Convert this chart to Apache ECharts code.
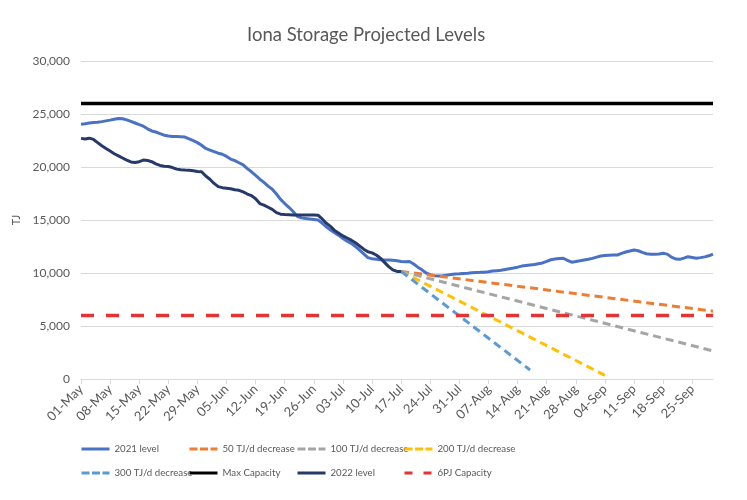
<!DOCTYPE html>
<html>
<head>
<meta charset="utf-8">
<script src="https://cdn.jsdelivr.net/npm/echarts@6/dist/echarts.min.js"></script>
<style>
html,body{margin:0;padding:0;background:#fff;}
#chart{width:747px;height:500px;}
</style>
</head>
<body>
<div id="chart"></div>
<script>
// ---- data ----
const months = ['May', 'Jun', 'Jul', 'Aug', 'Sep'];
const monthDays = [31, 30, 31, 31, 30];
const categories = [];
months.forEach(function (m, i) {
  for (let d = 1; d <= monthDays[i]; d++) {
    categories.push((d < 10 ? '0' + d : '' + d) + '-' + m);
  }
});

const level2021 = [
  24030, 24080, 24150, 24200, 24220, 24280, 24350, 24420, 24500, 24580,
  24550, 24450, 24300, 24150, 24000, 23850, 23600, 23400, 23300, 23150,
  23000, 22920, 22880, 22870, 22860, 22820, 22650, 22480, 22300, 22050,
  21750, 21600, 21450, 21300, 21200, 21000, 20750, 20600, 20400, 20200,
  19850, 19550, 19200, 18850, 18550, 18200, 17900, 17450, 16950, 16550,
  16200, 15800, 15350, 15200, 15150, 15100, 15050, 15000, 14700, 14350,
  14050, 13800, 13550, 13250, 13000, 12800, 12500, 12150, 11800, 11450,
  11350, 11300, 11250, 11230, 11220, 11200, 11150, 11080, 11050, 11080,
  10850, 10550, 10300, 10000, 9850, 9750, 9720, 9750, 9800, 9850,
  9900, 9920, 9950, 9980, 10030, 10050, 10060, 10080, 10120, 10180,
  10220, 10260, 10330, 10400, 10470, 10550, 10650, 10700, 10750, 10800,
  10880, 10950, 11100, 11250, 11320, 11370, 11390, 11200, 11020, 11080,
  11150, 11230, 11290, 11380, 11500, 11600, 11650, 11680, 11700, 11700,
  11850, 11980, 12080, 12170, 12100, 11950, 11820, 11760, 11760, 11800,
  11860, 11780, 11500, 11320, 11290, 11400, 11540, 11470, 11390, 11450,
  11520, 11620, 11790
];

const level2022 = [
  22700, 22650, 22720, 22600, 22300, 22000, 21750, 21500, 21250, 21050,
  20850, 20650, 20480, 20420, 20500, 20650, 20620, 20500, 20300, 20150,
  20080, 20050, 19950, 19800, 19750, 19720, 19700, 19650, 19580, 19550,
  19150, 18850, 18450, 18150, 18050, 18000, 17950, 17850, 17800, 17650,
  17450, 17300, 17000, 16550, 16400, 16200, 16000, 15700, 15550, 15520,
  15500, 15480, 15470, 15470, 15480, 15470, 15460, 15450, 15100, 14700,
  14400, 14000, 13750, 13500, 13300, 13100, 12850, 12550, 12250, 12000,
  11900, 11700, 11400, 11000, 10600, 10300, 10150, 10130
];

const proj50 = [['17-Jul', 10150], ['30-Sep', 6400]];
const proj100 = [['17-Jul', 10150], ['30-Sep', 2650]];
const proj200 = [['17-Jul', 10150], ['04-Sep', 350]];
const proj300 = [['17-Jul', 10150], ['17-Aug', 850]];
const maxCapacity = [['01-May', 26000], ['30-Sep', 26000]];
const capacity6PJ = [['01-May', 6000], ['30-Sep', 6000]];

const yTicks = { min: 0, max: 30000, interval: 5000 };

// ---- chart ----
const FONT = 'Lato, "Open Sans", sans-serif';
const TXT = '#595959';
const chart = echarts.init(document.getElementById('chart'), null, { renderer: 'canvas' });

const seriesDefs = [
  { name: '2021 level', data: level2021, color: '#4A72C4', type: 'solid', legendType: 'solid', width: 3 },
  { name: '50 TJ/d decrease', data: proj50, color: '#ED7D31', type: [8, 5], legendType: [8, 2.5], width: 3 },
  { name: '100 TJ/d decrease', data: proj100, color: '#A5A5A5', type: [8, 5], legendType: [8, 2.5], width: 3 },
  { name: '200 TJ/d decrease', data: proj200, color: '#FFC000', type: [8, 5], legendType: [8, 2.5], width: 3 },
  { name: '300 TJ/d decrease', data: proj300, color: '#5B9BD5', type: [8, 5], legendType: [8, 2.5], width: 3 },
  { name: 'Max Capacity', data: maxCapacity, color: '#000000', type: 'solid', legendType: 'solid', width: 3.5 },
  { name: '2022 level', data: level2022, color: '#25396B', type: 'solid', legendType: 'solid', width: 3 },
  { name: '6PJ Capacity', data: capacity6PJ, color: '#E53232', type: [13, 12], legendType: [8, 11], width: 3.5 }
];

const legendPos = [
  [80, 444], [188, 444], [296, 444], [403, 444],
  [80, 468], [188, 468], [296, 468], [403, 468]
];

const legends = seriesDefs.map(function (s, i) {
  return {
    data: [s.name],
    left: legendPos[i][0],
    top: legendPos[i][1],
    itemWidth: 28,
    itemHeight: 12,
    padding: 0,
    selectedMode: false,
    itemStyle: { color: 'rgba(0,0,0,0)', borderWidth: 0, opacity: 0 },
    lineStyle: { width: 3, type: s.legendType },
    textStyle: { color: TXT, fontSize: 9.7, fontFamily: FONT }
  };
});

const option = {
  backgroundColor: '#ffffff',
  animation: false,
  title: {
    text: 'Iona Storage Projected Levels',
    left: 242,
    top: 21,
    textStyle: { color: TXT, fontSize: 18.5, fontWeight: 'normal', fontFamily: FONT }
  },
  legend: legends,
  grid: { left: 81, right: 34, top: 61, bottom: 121 },
  xAxis: {
    type: 'category',
    data: categories,
    boundaryGap: false,
    axisLine: { lineStyle: { color: '#D9D9D9', width: 1 } },
    axisTick: { show: true, interval: 6, length: 5, lineStyle: { color: '#D9D9D9' } },
    axisLabel: {
      interval: 6,
      rotate: 45,
      color: TXT,
      fontSize: 13,
      fontFamily: FONT,
      margin: 8
    },
    splitLine: { show: false }
  },
  yAxis: {
    type: 'value',
    min: yTicks.min,
    max: yTicks.max,
    interval: yTicks.interval,
    name: 'TJ',
    nameLocation: 'middle',
    nameGap: 58,
    nameRotate: 90,
    nameTextStyle: { color: TXT, fontSize: 11, fontFamily: FONT },
    axisLine: { show: false },
    axisTick: { show: false },
    axisLabel: {
      color: TXT,
      fontSize: 12,
      fontFamily: FONT,
      margin: 11,
      formatter: function (v) { return v.toLocaleString('en-US'); }
    },
    splitLine: { lineStyle: { color: '#D9D9D9', width: 1 } }
  },
  series: seriesDefs.map(function (s, i) {
    return {
      name: s.name,
      type: 'line',
      data: s.data,
      symbol: 'none',
      smooth: false,
      z: 2 + i,
      color: s.color,
      lineStyle: { color: s.color, width: s.width, type: s.type, cap: 'butt', join: 'round' },
      itemStyle: { color: s.color }
    };
  })
};

chart.setOption(option);
</script>
</body>
</html>
